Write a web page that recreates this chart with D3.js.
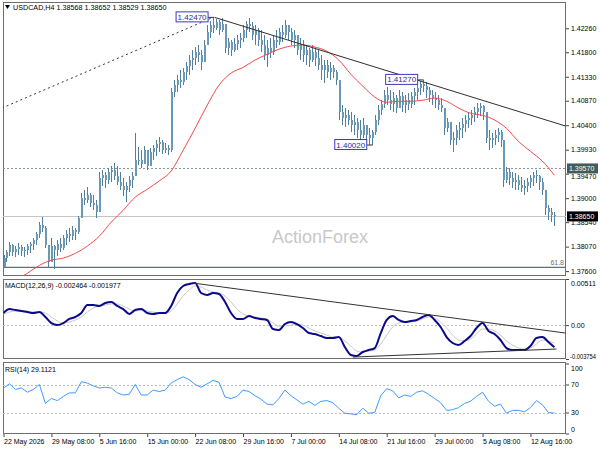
<!DOCTYPE html>
<html><head><meta charset="utf-8">
<script src="https://cdn.jsdelivr.net/npm/d3@7"></script>
<style>body{margin:0;background:#fff}svg{display:block}text{font-family:"Liberation Sans",Arial,sans-serif}</style>
</head><body><svg id="c" width="600" height="450"></svg>
<script>
// ---- DATA (H4 USDCAD; one entry per 8h column) ----
const firstOpen = 1.3768;
const highs = [
1.3790,1.3800,1.3815,1.3812,1.3808,1.3813,1.3810,1.3806,1.3812,1.3815,
1.3823,1.3835,1.3854,1.3863,1.3846,1.3804,1.3823,1.3810,1.3819,1.3823,
1.3829,1.3838,1.3842,1.3846,1.3842,1.3865,1.3909,1.3915,1.3921,1.3909,
1.3906,1.3896,1.3950,1.3954,1.3950,1.3957,1.3961,1.3967,1.3961,1.3950,
1.3938,1.3931,1.3942,1.3950,1.4025,1.3998,1.3992,1.4000,1.3992,1.3996,
1.4002,1.4011,1.4017,1.4011,1.4005,1.4002,1.4111,1.4126,1.4136,1.4146,
1.4149,1.4161,1.4174,1.4184,1.4190,1.4194,1.4184,1.4203,1.4232,1.4240,
1.4247,1.4244,1.4242,1.4245,1.4222,1.4207,1.4203,1.4207,1.4213,1.4217,
1.4232,1.4240,1.4245,1.4238,1.4232,1.4226,1.4222,1.4213,1.4203,1.4207,
1.4213,1.4222,1.4226,1.4232,1.4242,1.4232,1.4226,1.4222,1.4213,1.4207,
1.4203,1.4194,1.4188,1.4194,1.4188,1.4184,1.4174,1.4165,1.4165,1.4161,
1.4155,1.4146,1.4126,1.4078,1.4073,1.4069,1.4065,1.4059,1.4053,1.4050,
1.4053,1.4040,1.4034,1.4030,1.4059,1.4078,1.4088,1.4107,1.4113,1.4107,
1.4103,1.4098,1.4107,1.4103,1.4098,1.4101,1.4103,1.4111,1.4117,1.4124,
1.4127,1.4123,1.4113,1.4107,1.4103,1.4098,1.4092,1.4073,1.4053,1.4046,
1.4027,1.4040,1.4046,1.4053,1.4059,1.4065,1.4069,1.4075,1.4082,1.4082,
1.4078,1.4065,1.4030,1.4025,1.4030,1.4034,1.4030,1.4011,1.3959,1.3957,
1.3950,1.3948,1.3944,1.3940,1.3934,1.3938,1.3944,1.3950,1.3954,1.3944,
1.3938,1.3915,1.3886,1.3881,1.3873];
const lows = [
1.3765,1.3777,1.3789,1.3789,1.3787,1.3790,1.3789,1.3787,1.3790,1.3794,
1.3800,1.3810,1.3823,1.3835,1.3804,1.3765,1.3777,1.3764,1.3789,1.3796,
1.3800,1.3810,1.3815,1.3819,1.3819,1.3831,1.3861,1.3886,1.3890,1.3883,
1.3877,1.3861,1.3873,1.3923,1.3919,1.3927,1.3931,1.3934,1.3925,1.3915,
1.3904,1.3892,1.3911,1.3919,1.3942,1.3963,1.3957,1.3967,1.3954,1.3961,
1.3973,1.3980,1.3988,1.3984,1.3986,1.3982,1.3988,1.4094,1.4103,1.4111,
1.4117,1.4126,1.4136,1.4146,1.4155,1.4161,1.4146,1.4165,1.4194,1.4207,
1.4217,1.4222,1.4213,1.4219,1.4178,1.4174,1.4172,1.4180,1.4184,1.4188,
1.4199,1.4207,1.4219,1.4203,1.4194,1.4192,1.4180,1.4165,1.4151,1.4169,
1.4174,1.4188,1.4194,1.4199,1.4207,1.4203,1.4194,1.4188,1.4174,1.4165,
1.4161,1.4155,1.4151,1.4161,1.4153,1.4146,1.4126,1.4121,1.4130,1.4126,
1.4130,1.4117,1.4050,1.4040,1.4036,1.4040,1.4027,1.4021,1.4015,1.4007,
1.4015,1.4005,1.4002,1.4002,1.4021,1.4040,1.4059,1.4073,1.4078,1.4069,
1.4065,1.4063,1.4073,1.4065,1.4063,1.4069,1.4073,1.4078,1.4088,1.4098,
1.4103,1.4092,1.4084,1.4078,1.4073,1.4069,1.4065,1.4021,1.4027,1.4002,
1.3988,1.4002,1.4011,1.4015,1.4027,1.4034,1.4040,1.4046,1.4053,1.4057,
1.4050,1.4005,1.3992,1.3996,1.4002,1.4007,1.3998,1.3921,1.3929,1.3925,
1.3919,1.3915,1.3915,1.3911,1.3906,1.3911,1.3919,1.3923,1.3929,1.3915,
1.3906,1.3867,1.3858,1.3854,1.3846];
const closes = [
1.3785,1.3796,1.3810,1.3796,1.3802,1.3806,1.3798,1.3800,1.3808,1.3812,
1.3819,1.3831,1.3848,1.3842,1.3810,1.3777,1.3808,1.3800,1.3812,1.3804,
1.3823,1.3831,1.3827,1.3838,1.3835,1.3861,1.3900,1.3896,1.3906,1.3890,
1.3886,1.3873,1.3938,1.3944,1.3935,1.3950,1.3954,1.3942,1.3931,1.3923,
1.3915,1.3923,1.3934,1.3942,1.3973,1.3973,1.3965,1.3992,1.3961,1.3988,
1.3996,1.4004,1.4007,1.3992,1.3996,1.3992,1.4103,1.4117,1.4126,1.4123,
1.4142,1.4153,1.4165,1.4169,1.4180,1.4174,1.4161,1.4194,1.4219,1.4232,
1.4226,1.4238,1.4222,1.4234,1.4188,1.4199,1.4184,1.4196,1.4203,1.4207,
1.4222,1.4235,1.4230,1.4213,1.4222,1.4203,1.4194,1.4174,1.4188,1.4180,
1.4203,1.4199,1.4219,1.4213,1.4232,1.4219,1.4203,1.4213,1.4184,1.4194,
1.4174,1.4184,1.4165,1.4180,1.4169,1.4155,1.4146,1.4155,1.4142,1.4149,
1.4142,1.4126,1.4065,1.4053,1.4059,1.4050,1.4040,1.4046,1.4030,1.4021,
1.4040,1.4021,1.4015,1.4027,1.4050,1.4069,1.4080,1.4098,1.4088,1.4080,
1.4092,1.4073,1.4096,1.4078,1.4088,1.4080,1.4096,1.4103,1.4111,1.4119,
1.4115,1.4107,1.4098,1.4092,1.4088,1.4078,1.4073,1.4034,1.4046,1.4011,
1.4015,1.4030,1.4034,1.4042,1.4050,1.4053,1.4059,1.4065,1.4073,1.4077,
1.4065,1.4015,1.4011,1.4015,1.4021,1.4027,1.4011,1.3934,1.3950,1.3938,
1.3931,1.3934,1.3925,1.3919,1.3923,1.3931,1.3938,1.3944,1.3942,1.3931,
1.3915,1.3881,1.3873,1.3867,1.3865];
// moving average, one value every 4 columns
const maStep = 4;
const maValues = [1.3727,1.3742,1.3756,1.3771,1.3781,1.3785,1.3794,1.3808,1.3827,1.3854,
1.3877,1.3902,1.3917,1.3933,1.3952,1.3992,1.4034,1.4078,1.4117,1.4140,
1.4151,1.4165,1.4176,1.4186,1.4192,1.4194,1.4190,1.4182,1.4165,1.4138,
1.4115,1.4094,1.4084,1.4086,1.4086,1.4088,1.4092,1.4086,1.4073,1.4063,
1.4059,1.4050,1.4034,1.4009,1.3990,1.3971,1.3944];
// indicators, one value every 2 columns
const indStep = 2;
const macdMain = [0.00134,0.00178,0.00167,0.00156,0.00145,0.00134,0.00145,0.00090,0.00023,0.00001,
0.00023,0.00068,0.00090,0.00134,0.00223,0.00223,0.00212,0.00245,0.00256,0.00212,
0.00178,0.00123,0.00167,0.00178,0.00134,0.00123,0.00134,0.00134,0.00212,0.00356,
0.00433,0.00455,0.00466,0.00356,0.00334,0.00356,0.00345,0.00256,0.00134,0.00068,
0.00068,0.00101,0.00079,0.00068,0.00057,-0.00043,-0.00054,0.00012,0.00034,0.00012,
-0.00032,-0.00088,-0.00099,-0.00121,-0.00143,-0.00143,-0.00132,-0.00243,-0.00331,-0.00342,
-0.00298,-0.00276,-0.00254,-0.00088,0.00057,0.00101,0.00057,0.00034,0.00045,0.00057,
0.00090,0.00112,0.00057,-0.00021,-0.00132,-0.00198,-0.00220,-0.00176,-0.00121,-0.00032,
0.00023,-0.00065,-0.00099,-0.00165,-0.00254,-0.00276,-0.00276,-0.00276,-0.00232,-0.00143,
-0.00132,-0.00187,-0.002464];
const macdSignal = [0.00123,0.00145,0.00156,0.00156,0.00156,0.00145,0.00145,0.00134,0.00090,0.00045,
0.00023,0.00034,0.00057,0.00090,0.00145,0.00190,0.00212,0.00223,0.00234,0.00234,
0.00212,0.00178,0.00156,0.00167,0.00156,0.00145,0.00134,0.00134,0.00156,0.00234,
0.00322,0.00389,0.00433,0.00422,0.00389,0.00367,0.00356,0.00322,0.00256,0.00178,
0.00123,0.00101,0.00090,0.00079,0.00068,0.00023,-0.00010,-0.00010,0.00001,0.00012,
0.00001,-0.00032,-0.00065,-0.00088,-0.00110,-0.00132,-0.00132,-0.00176,-0.00232,-0.00287,
-0.00298,-0.00287,-0.00276,-0.00209,-0.00110,-0.00021,0.00023,0.00034,0.00034,0.00045,
0.00068,0.00090,0.00079,0.00034,-0.00032,-0.00110,-0.00165,-0.00176,-0.00154,-0.00099,
-0.00043,-0.00043,-0.00065,-0.00110,-0.00176,-0.00220,-0.00254,-0.00265,-0.00254,-0.00209,
-0.00165,-0.00176,-0.001977];
const rsiValues = [65,71,63,65,59,63,70,43,50,47,
53,58,58,74,72,68,65,66,65,58,
55,56,70,55,55,62,60,62,72,77,
81,77,70,66,71,76,73,52,50,53,
62,60,54,49,42,41,50,62,54,48,
42,46,40,46,47,44,36,29,28,27,
36,29,30,54,64,61,51,55,53,59,
61,56,50,44,33,34,37,43,46,53,
59,46,39,42,29,33,33,31,37,47,
41,30,29.1121];
const priceTicks = [1.42260,1.41800,1.41330,1.40870,1.40400,1.39930,1.39470,1.39000,1.38540,1.38070,1.37600];
const macdTicks = [0.00511,0,-0.003754];
const macdTickLabels = ["0.00511","0.00","-0.003754"];
const rsiTicks = [100,70,30,0];
const timeTickBars = [0,16,32,48,64,80,96,112,128,144,160,176];
const timeLabels = ["22 May 2026","29 May 08:00","5 Jun 16:00","15 Jun 00:00","22 Jun 08:00","29 Jun 16:00","7 Jul 00:00","14 Jul 08:00","21 Jul 16:00","29 Jul 00:00","5 Aug 08:00","12 Aug 16:00"];
const resistanceLevel = 1.3957, lastPrice = 1.3865, fibLevel = 1.3767;
const markers = [{bar:70,price:1.4247},{bar:140,price:1.4127},{bar:123,price:1.4002}];
const trendMain = [[70.5,1.4247],[187.7,1.40385]];
const trendDotted = [[-0.5,1.4073],[70,1.4247]];
const trendMacdUp = [[63.3,0.00466],[187.7,-0.00088]];
const trendMacdLow = [[116.7,-0.00354],[184.7,-0.00265]];

// ---- LAYOUT ----
const svg = d3.select("#c");
const L=3, R=566;
const mT=2, mB=276, dT=279, dB=359, rT=362, rB=434;
const x = d3.scaleLinear().domain([0,184]).range([3.5, 3.5+184*2.994]);
const yP = d3.scaleLinear().domain([1.37506,1.42765]).range([mB,mT]);
const yM = d3.scaleLinear().domain([-0.003754,0.00511]).range([dB,dT]);
const yR = d3.scaleLinear().domain([0,100]).range([433.5,363.5]);
const FONT='"Liberation Sans",Arial,sans-serif';

svg.append("rect").attr("width",600).attr("height",450).attr("fill","#fff");
const defs = svg.append("defs");
[["cm",mT,mB],["cd",dT,dB],["cr",rT,rB]].forEach(([id,t,b])=>{
  defs.append("clipPath").attr("id",id).append("rect").attr("x",L).attr("y",t).attr("width",R-L).attr("height",b-t);
});
[[mT,mB],[dT,dB],[rT,rB]].forEach(([t,b])=>{
  svg.append("rect").attr("x",L+0.5).attr("y",t+0.5).attr("width",R-L-1).attr("height",b-t-1)
    .attr("fill","none").attr("stroke","#6e6e6e").attr("stroke-width",1);
});

// ---- MAIN PANEL ----
const gm = svg.append("g").attr("clip-path","url(#cm)");
gm.append("text").attr("x",320).attr("y",243).attr("text-anchor","middle")
  .attr("font-size",18).attr("font-family",FONT).attr("fill","#c8c8c8").text("ActionForex");
const hline=(g,yv,col,dash,w)=>g.append("line").attr("x1",L).attr("x2",R).attr("y1",yv).attr("y2",yv)
  .attr("stroke",col).attr("stroke-width",w||1).attr("stroke-dasharray",dash||null);
hline(gm,Math.round(yP(resistanceLevel))+0.5,"#8a9898","2,2");
hline(gm,Math.round(yP(lastPrice))+0.5,"#c4c4c4");
hline(gm,yP(fibLevel),"#5c7478",null,1.3);
gm.append("text").attr("x",R-2).attr("y",yP(fibLevel)-2.5).attr("text-anchor","end")
  .attr("font-size",7).attr("font-family",FONT).attr("fill","#5c7478").text("61.8");

const line = d3.line().x(d=>x(d[0]));
gm.append("path").attr("d",line.y(d=>yP(d[1]))(trendDotted)).attr("fill","none")
  .attr("stroke","#333").attr("stroke-dasharray","2,3").attr("stroke-width",1);

// candles
const opens = closes.map((c,i)=> i===0 ? firstOpen : closes[i-1]);
const gc = gm.append("g").attr("shape-rendering","crispEdges");
closes.forEach((c,i)=>{
  const o=opens[i];
  const hi=Math.max(highs[i],o,c), lo=Math.min(lows[i],o,c);
  const cx=Math.round(x(i));
  gc.append("line").attr("x1",cx+0.5).attr("x2",cx+0.5).attr("y1",yP(hi)).attr("y2",yP(lo))
    .attr("stroke","#4f7f9c").attr("stroke-width",1);
  const top=yP(Math.max(o,c)), bot=yP(Math.min(o,c));
  gc.append("rect").attr("x",cx-0.5).attr("width",2).attr("y",top).attr("height",Math.max(1,bot-top))
    .attr("fill","#6b98b5");
});

// moving average
gm.append("path").attr("d",d3.line().x((d,i)=>x(i*maStep)).y(d=>yP(d)).curve(d3.curveMonotoneX)(maValues))
  .attr("fill","none").attr("stroke","#f24a4a").attr("stroke-width",1);

// trendline
gm.append("path").attr("d",line.y(d=>yP(d[1]))(trendMain)).attr("fill","none")
  .attr("stroke","#2e2e2e").attr("stroke-width",1);

// markers
markers.forEach(m=>{
  const px=x(m.bar), py=yP(m.price);
  const bw=32, bh=10, bx=px-5-bw, by=py-bh/2-0.5;
  gm.append("line").attr("x1",bx+bw).attr("x2",px+1).attr("y1",py).attr("y2",py).attr("stroke","#333");
  gm.append("rect").attr("x",bx).attr("y",by).attr("width",bw).attr("height",bh)
    .attr("fill","#fff").attr("stroke","#3a3ac8").attr("stroke-width",1);
  gm.append("text").attr("x",bx+bw/2).attr("y",by+bh-2).attr("text-anchor","middle")
    .attr("font-size",8).attr("font-family",FONT).attr("fill","#2a2aa0").text(m.price.toFixed(5));
});

// title
svg.append("path").attr("d","M5,5 L10,5 L7.5,9 Z").attr("fill","#000");
svg.append("text").attr("x",13).attr("y",10).attr("font-size",7.2).attr("font-family",FONT).attr("fill","#000")
  .text("USDCAD,H4  1.38568 1.38652 1.38529 1.38650");

// price axis
const axisStyle=g=>{g.select(".domain").remove();g.attr("font-family",FONT).attr("font-size",7);
  g.selectAll(".tick line").attr("stroke","#444");g.selectAll(".tick text").attr("fill","#000");};
const gPa = svg.append("g").attr("transform",`translate(${R},0)`)
  .call(d3.axisRight(yP).tickValues(priceTicks).tickFormat(d3.format(".5f")).tickSize(3).tickPadding(2)).call(axisStyle);
// the resistance tag sits over this label, as in the original; nudge it just below the tag
gPa.selectAll(".tick text").filter(d=>d===1.39470).attr("dy","0.75em");
// price tags
[[resistanceLevel,"#3f5c5c"],[lastPrice,"#000"]].forEach(([p,col])=>{
  const py=yP(p);
  svg.append("rect").attr("x",R+1).attr("y",py-5).attr("width",31).attr("height",10).attr("fill",col);
  svg.append("text").attr("x",R+3).attr("y",py+2.5).attr("font-size",7).attr("font-family",FONT)
    .attr("fill","#fff").text(p.toFixed(5));
});

// ---- MACD PANEL ----
const gd = svg.append("g").attr("clip-path","url(#cd)");
hline(gd,Math.round(yM(0))+0.5,"#bdbdbd","2,2");
const indLine=(arr,ys)=>d3.line().x((d,i)=>x(i*indStep)).y(d=>ys(d)).curve(d3.curveMonotoneX)(arr);
gd.append("path").attr("d",indLine(macdSignal,yM)).attr("fill","none").attr("stroke","#c9c9c9").attr("stroke-width",1);
gd.append("path").attr("d",indLine(macdMain,yM)).attr("fill","none").attr("stroke","#0a0a8a").attr("stroke-width",2);
[trendMacdUp,trendMacdLow].forEach(t=>gd.append("path").attr("d",line.y(d=>yM(d[1]))(t))
  .attr("fill","none").attr("stroke","#333").attr("stroke-width",1));
svg.append("text").attr("x",5).attr("y",288).attr("font-size",7).attr("font-family",FONT).attr("fill","#000")
  .text("MACD(12,26,9) -0.002464 -0.001977");
const gMa = svg.append("g").attr("transform",`translate(${R},0)`)
  .call(d3.axisRight(yM).tickValues(macdTicks).tickFormat(d=>macdTickLabels[macdTicks.indexOf(d)]).tickSize(3).tickPadding(2)).call(axisStyle);
gMa.selectAll(".tick text").attr("dy",d=> d===macdTicks[0]?"0.95em":(d===macdTicks[2]?"-0.1em":"0.32em"));
gMa.selectAll(".tick text").filter(d=>d===macdTicks[2])
  .attr("x",4).attr("font-size",6.3).attr("textLength",26).attr("lengthAdjust","spacingAndGlyphs");

// ---- RSI PANEL ----
const gr = svg.append("g").attr("clip-path","url(#cr)");
hline(gr,Math.round(yR(70))+0.5,"#bdbdbd","2,2");
hline(gr,Math.round(yR(30))+0.5,"#bdbdbd","2,2");
gr.append("path").attr("d",d3.line().x((d,i)=>x(i*indStep)).y(d=>yR(d))(rsiValues))
  .attr("fill","none").attr("stroke","#3d9bff").attr("stroke-width",1);
svg.append("text").attr("x",5).attr("y",372).attr("font-size",7).attr("font-family",FONT).attr("fill","#000")
  .text("RSI(14) 29.1121");
const gRa = svg.append("g").attr("transform",`translate(${R},0)`)
  .call(d3.axisRight(yR).tickValues(rsiTicks).tickSize(3).tickPadding(2)).call(axisStyle);
gRa.selectAll(".tick text").attr("dy",(d)=> d===100?"0.95em":(d===0?"-0.3em":"0.32em"));

// ---- TIME AXIS ----
const gx = svg.append("g").attr("transform",`translate(0,${rB})`)
  .call(d3.axisBottom(x).tickValues(timeTickBars).tickFormat((d,i)=>timeLabels[i]).tickSize(3).tickPadding(2)).call(axisStyle);
gx.selectAll(".tick text").attr("text-anchor","start").attr("x",0);
</script></body></html>
